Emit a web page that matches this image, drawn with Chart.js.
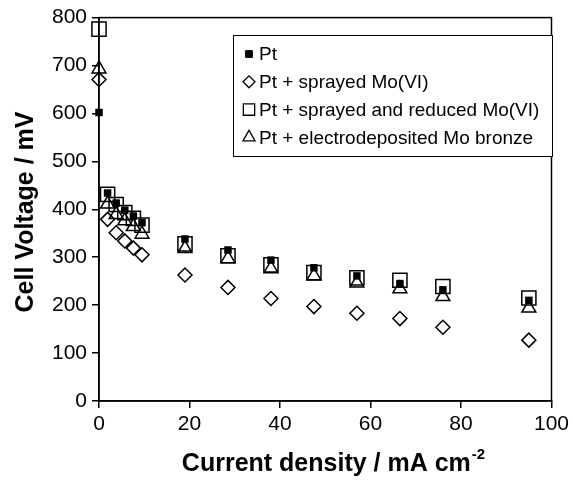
<!DOCTYPE html>
<html>
<head>
<meta charset="utf-8">
<script src="https://cdn.jsdelivr.net/npm/chart.js@4.4.0/dist/chart.umd.min.js"></script>
<style>
  html, body { margin: 0; padding: 0; background: #fff; }
  #wrap { width: 573px; height: 484px; }
</style>
</head>
<body>
<div id="wrap"><canvas id="myScatterChart" width="573" height="484"></canvas></div>
<script>
// current density (mA cm-2)
const currentDensity = [0, 1.9, 3.8, 5.7, 7.6, 9.5, 19, 28.5, 38, 47.5, 57, 66.5, 76, 95];

// cell voltage (mV) for each electrode
const ptVoltage       = [602, 434, 413, 398, 386, 372, 338, 315, 294, 278, 261, 245, 232, 210];
const sprayedVoltage  = [671, 379, 351, 334, 319, 305, 263, 237, 214, 197, 183, 172, 154, 127];
const reducedVoltage  = [776, 431, 410, 393, 381, 367, 328, 303, 284, 268, 257, 252, 239, 215];
const bronzeVoltage   = [693, 411, 389, 376, 364, 348, 318, 297, 276, 261, 246, 234, 218, 194];

const seriesLabels = [
    'Pt',
    'Pt + sprayed Mo(VI)',
    'Pt + sprayed and reduced Mo(VI)',
    'Pt + electrodeposited Mo bronze'
];

const xTicks = [0, 20, 40, 60, 80, 100];
const yTicks = [0, 100, 200, 300, 400, 500, 600, 700, 800];

const FONT = '"Liberation Sans", Arial, Helvetica, sans-serif';

function toPoints(ys) {
    return ys.map((y, i) => ({ x: currentDensity[i], y: y }));
}

// marker style per series: [pointStyle, radius, filled, legend radius]
const markers = [
    ['rect', 5.3, true, 4.8],
    ['rectRot', 7, false, 6],
    ['rect', 10, false, 8],
    ['triangle', 8, false, 7]
];

const seriesData = [ptVoltage, sprayedVoltage, reducedVoltage, bronzeVoltage];

const datasets = seriesData.map((ys, i) => ({
    label: seriesLabels[i],
    data: toPoints(ys),
    pointStyle: markers[i][0],
    pointRadius: markers[i][1],
    pointHoverRadius: markers[i][1],
    backgroundColor: markers[i][2] ? '#000' : 'rgba(0,0,0,0)',
    borderColor: '#000',
    borderWidth: markers[i][2] ? 0 : 1.5,
    showLine: false,
    clip: false
}));

// frame, axis titles and boxed legend
const decorations = {
    id: 'decorations',
    afterDraw(chart) {
        const ctx = chart.ctx;
        const a = chart.chartArea;
        ctx.save();

        // frame
        ctx.strokeStyle = '#000';
        ctx.lineWidth = 1.5;
        ctx.strokeRect(a.left, a.top, a.right - a.left, a.bottom - a.top);

        // y title
        ctx.fillStyle = '#000';
        ctx.font = 'bold 25px ' + FONT;
        ctx.textAlign = 'center';
        ctx.textBaseline = 'middle';
        ctx.save();
        ctx.translate(26, 212);
        ctx.rotate(-Math.PI / 2);
        ctx.fillText('Cell Voltage / mV', 0, 0);
        ctx.restore();

        // x title with superscript
        const main = 'Current density / mA cm';
        const sup = '-2';
        ctx.textBaseline = 'alphabetic';
        ctx.textAlign = 'left';
        ctx.font = 'bold 25px ' + FONT;
        const wMain = ctx.measureText(main).width;
        ctx.font = 'bold 15px ' + FONT;
        const wSup = ctx.measureText(sup).width;
        const x0 = 333 - (wMain + wSup) / 2;
        ctx.font = 'bold 25px ' + FONT;
        ctx.fillText(main, x0, 471);
        ctx.font = 'bold 15px ' + FONT;
        ctx.fillText(sup, x0 + wMain + 1, 459);

        // legend box
        const lx = 233, ly = 35, lw = 319, lh = 121;
        ctx.fillStyle = '#fff';
        ctx.fillRect(lx, ly, lw, lh);
        ctx.lineWidth = 1;
        ctx.strokeStyle = '#000';
        ctx.strokeRect(lx + 0.5, ly + 0.5, lw, lh);

        ctx.font = '19px ' + FONT;
        ctx.textBaseline = 'middle';
        seriesLabels.forEach((label, i) => {
            const cy = 54 + i * 27.8;
            ctx.fillStyle = markers[i][2] ? '#000' : 'rgba(0,0,0,0)';
            ctx.strokeStyle = '#000';
            ctx.lineWidth = markers[i][2] ? 0 : 1.3;
            Chart.helpers.drawPoint(ctx, {
                pointStyle: markers[i][0],
                radius: markers[i][3],
                rotation: 0,
                borderWidth: ctx.lineWidth
            }, 249, cy);
            ctx.fillStyle = '#000';
            ctx.fillText(label, 259, cy + 1);
        });

        ctx.restore();
    }
};

new Chart(document.getElementById('myScatterChart'), {
    type: 'scatter',
    data: { datasets: datasets },
    options: {
        responsive: false,
        animation: false,
        events: [],
        layout: { padding: { left: 0, right: 20, top: 15, bottom: 0 } },
        plugins: {
            legend: { display: false },
            tooltip: { enabled: false }
        },
        scales: {
            x: {
                type: 'linear',
                min: 0,
                max: 100,
                afterFit(scale) { scale.height = 83; },
                afterBuildTicks(scale) { scale.ticks = xTicks.map(v => ({ value: v })); },
                grid: { drawOnChartArea: false, drawTicks: true, tickLength: 7, color: '#000', lineWidth: 1.5 },
                border: { color: '#000', width: 1.5 },
                ticks: { color: '#000', padding: 4, maxRotation: 0, font: { family: FONT, size: 21 } }
            },
            y: {
                type: 'linear',
                min: 0,
                max: 800,
                afterFit(scale) { scale.width = 99; },
                afterBuildTicks(scale) { scale.ticks = yTicks.map(v => ({ value: v })); },
                grid: { drawOnChartArea: false, drawTicks: true, tickLength: 7, color: '#000', lineWidth: 1.5 },
                border: { color: '#000', width: 1.5 },
                ticks: { color: '#000', padding: 5, font: { family: FONT, size: 21 } }
            }
        }
    },
    plugins: [decorations]
});
</script>
</body>
</html>
